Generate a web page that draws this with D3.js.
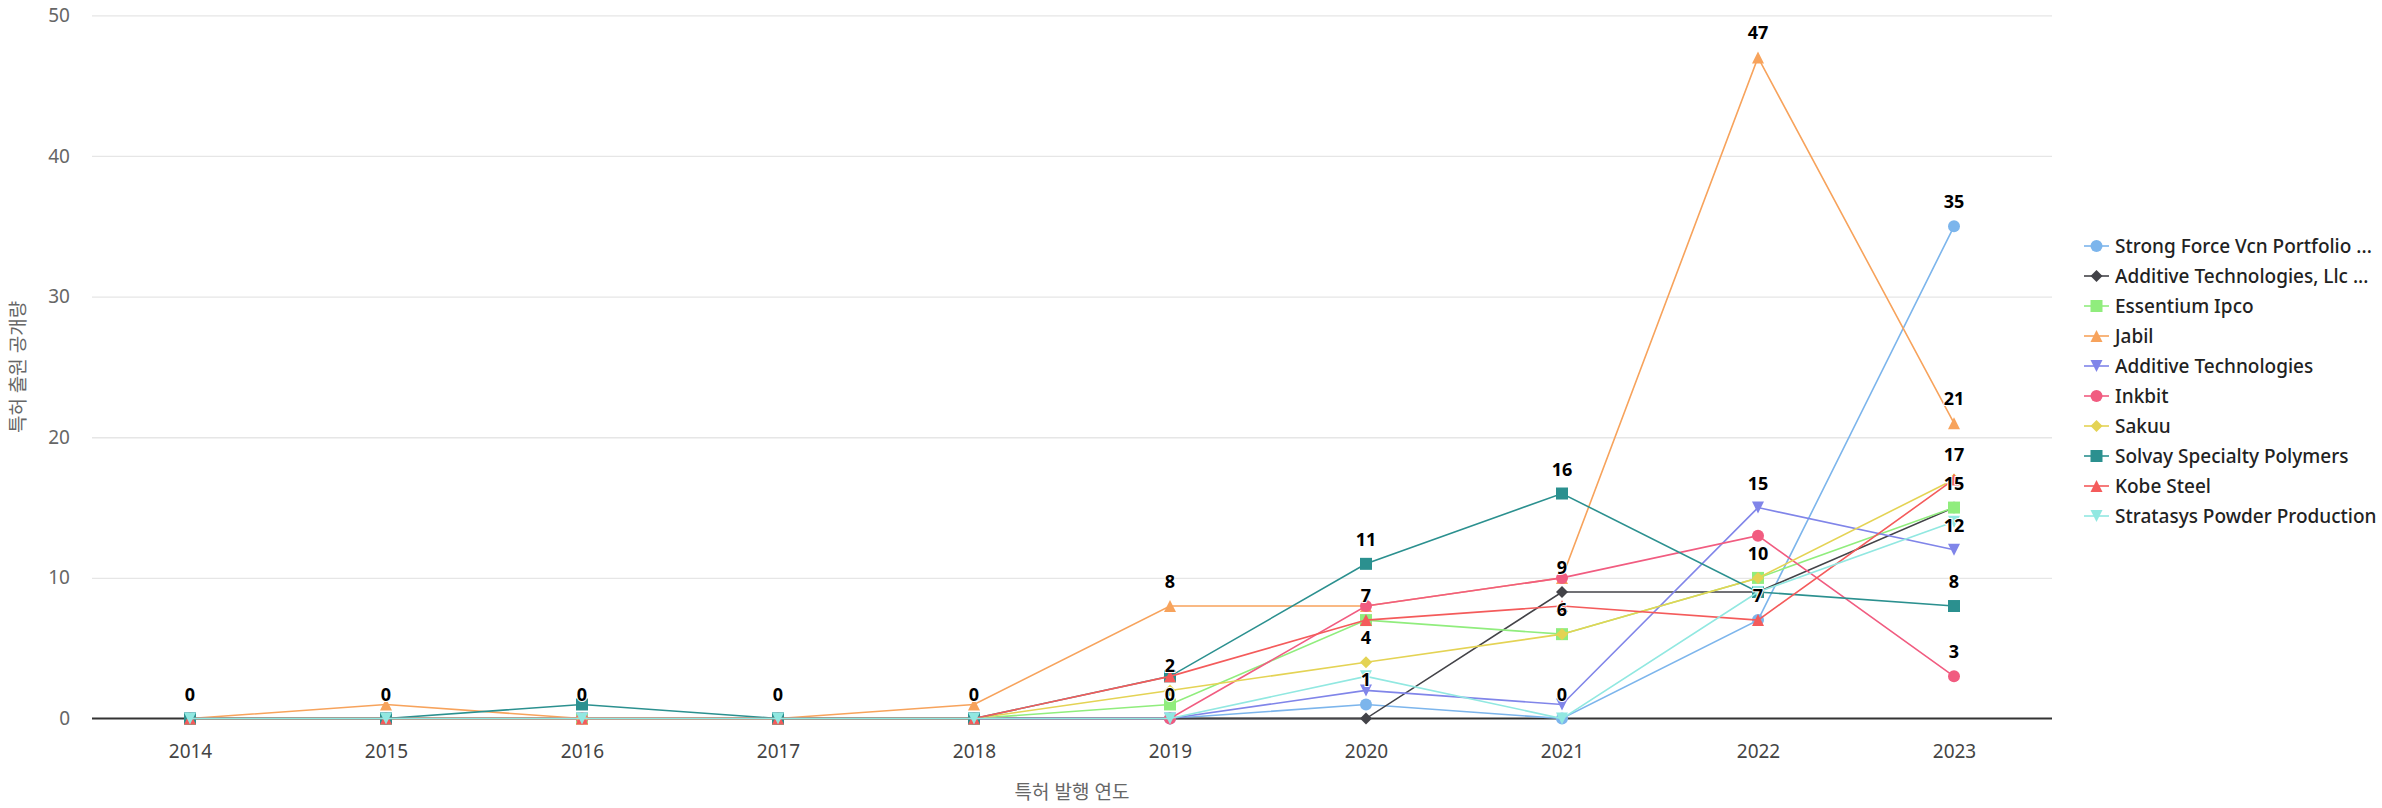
<!DOCTYPE html>
<html>
<head>
<meta charset="utf-8">
<script src="https://cdn.jsdelivr.net/npm/d3@7"></script>
<style>
  body { margin: 0; background: #fff; }
  text { font-family: "Noto Sans", "Noto Sans CJK KR", sans-serif; }
</style>
</head>
<body>
<script>
// years on the x axis
const years = [2014, 2015, 2016, 2017, 2018, 2019, 2020, 2021, 2022, 2023];

// one array per applicant (patent publications per year)
const strongForce   = [0, 0, 0, 0, 0, 0, 1, 0, 7, 35];
const additiveLlc   = [0, 0, 0, 0, 0, 0, 0, 9, 9, 15];
const essentium     = [0, 0, 0, 0, 0, 1, 7, 6, 10, 15];
const jabil         = [0, 1, 0, 0, 1, 8, 8, 10, 47, 21];
const additiveTech  = [0, 0, 0, 0, 0, 0, 2, 1, 15, 12];
const inkbit        = [0, 0, 0, 0, 0, 0, 8, 10, 13, 3];
const sakuu         = [0, 0, 0, 0, 0, 2, 4, 6, 10, 17];
const solvay        = [0, 0, 1, 0, 0, 3, 11, 16, 9, 8];
const kobeSteel     = [0, 0, 0, 0, 0, 3, 7, 8, 7, 17];
const stratasys     = [0, 0, 0, 0, 0, 0, 3, 0, 9, 14];

const seriesNames = ["Strong Force Vcn Portfolio ...", "Additive Technologies, Llc ...", "Essentium Ipco",
  "Jabil", "Additive Technologies", "Inkbit", "Sakuu", "Solvay Specialty Polymers", "Kobe Steel",
  "Stratasys Powder Production"];
const seriesValues = [strongForce, additiveLlc, essentium, jabil, additiveTech, inkbit, sakuu, solvay, kobeSteel, stratasys];

const yTicks = [0, 10, 20, 30, 40, 50];
const yTitle = "특허 출원 공개량";
const xTitle = "특허 발행 연도";

const colors = ["#7cb5ec", "#434348", "#90ed7d", "#f7a35c", "#8085e9",
                "#f15c80", "#e4d354", "#2b908f", "#f45b5b", "#91e8e1"];
const symbolNames = ["circle", "diamond", "square", "triangle", "triangle-down"];

const W = 2382, H = 808;
const plot = { left: 92, right: 2052, top: 15.3, bottom: 718.55 };

const svg = d3.select("body").append("svg")
    .attr("width", W)
    .attr("height", H);

const x = d3.scalePoint().domain(years).range([plot.left, plot.right]).padding(0.5);
const y = d3.scaleLinear().domain([0, 50]).range([plot.bottom, plot.top]);

// marker shapes, r = half size
function symbolPath(name, r) {
  if (name === "circle") return `M${-r},0A${r},${r} 0 1,0 ${r},0A${r},${r} 0 1,0 ${-r},0Z`;
  if (name === "square") return `M${-r},${-r}H${r}V${r}H${-r}Z`;
  if (name === "diamond") return `M0,${-r}L${r},0L0,${r}L${-r},0Z`;
  if (name === "triangle") return `M0,${-r}L${r},${r}L${-r},${r}Z`;
  return `M${-r},${-r}L${r},${-r}L0,${r}Z`;
}

// grid lines
svg.append("g")
  .attr("transform", `translate(${plot.left},0)`)
  .call(d3.axisLeft(y).tickValues(yTicks.slice(1)).tickSize(-(plot.right - plot.left)).tickFormat(""))
  .call(g => g.select(".domain").remove())
  .call(g => g.selectAll("line").attr("stroke", "#e6e6e6").attr("stroke-width", 1.3));

// y tick labels
svg.append("g")
  .attr("transform", `translate(${plot.left},0)`)
  .call(d3.axisLeft(y).tickValues(yTicks).tickSize(0).tickPadding(22))
  .call(g => g.select(".domain").remove())
  .call(g => g.selectAll("text")
      .attr("font-family", "'Noto Sans', sans-serif")
      .attr("font-size", 19).attr("fill", "#666"));

// x axis
svg.append("g")
  .attr("transform", `translate(0,${plot.bottom})`)
  .call(d3.axisBottom(x).tickSize(0).tickPadding(26))
  .call(g => g.select(".domain").attr("d", `M${plot.left},0H${plot.right}`)
      .attr("stroke", "#333").attr("stroke-width", 2))
  .call(g => g.selectAll("text")
      .attr("font-family", "'Noto Sans', sans-serif")
      .attr("font-size", 19).attr("fill", "#444"));

// axis titles
svg.append("text")
  .text(yTitle)
  .attr("transform", `translate(18,${(plot.top + plot.bottom) / 2}) rotate(-90)`)
  .attr("text-anchor", "middle")
  .attr("dy", "0.35em")
  .attr("font-size", 19)
  .attr("fill", "#666");

svg.append("text")
  .text(xTitle)
  .attr("x", (plot.left + plot.right) / 2)
  .attr("y", 792)
  .attr("text-anchor", "middle")
  .attr("dy", "0.35em")
  .attr("font-size", 19)
  .attr("fill", "#666");

// lines + markers
const line = d3.line().x((d, i) => x(years[i])).y(d => y(d));

const series = svg.selectAll(".series")
  .data(seriesValues)
  .enter()
  .append("g")
  .attr("class", "series");

series.append("path")
  .attr("fill", "none")
  .attr("stroke", (d, i) => colors[i])
  .attr("stroke-width", 1.6)
  .attr("d", d => line(d));

series.each(function (vals, si) {
  d3.select(this).selectAll("path.marker")
    .data(vals)
    .enter()
    .append("path")
    .attr("class", "marker")
    .attr("transform", (d, i) => `translate(${x(years[i])},${y(d)})`)
    .attr("d", symbolPath(symbolNames[si % 5], 6))
    .attr("fill", colors[si]);
});

// data labels: rounded to whole pixels, a label is dropped when it
// overlaps one placed before it (series order)
const labelGroup = svg.append("g");
const placed = [];
const boxH = 28.5;
seriesValues.forEach((vals, si) => {
  vals.forEach((v, i) => {
    const cx = x(years[i]);
    const cy = Math.round(y(v) - 24);
    const t = labelGroup.append("text")
      .text(v)
      .attr("x", cx)
      .attr("y", cy)
      .attr("dy", "0.35em")
      .attr("text-anchor", "middle")
      .attr("font-size", 18)
      .attr("font-weight", "bold")
      .attr("fill", "#000")
      .attr("stroke", "#fff")
      .attr("stroke-width", 2)
      .attr("paint-order", "stroke");
    const w = t.node().getComputedTextLength() + 4;
    const hit = placed.some(b => Math.abs(b.cx - cx) < (b.w + w) / 2 && Math.abs(b.cy - cy) < boxH);
    if (hit) t.remove();
    else placed.push({ cx, cy, w });
  });
});

// legend
const legend = svg.append("g").attr("transform", "translate(2084,246)");
const item = legend.selectAll("g")
  .data(seriesNames)
  .enter()
  .append("g")
  .attr("transform", (d, i) => `translate(0,${i * 30})`);

item.append("line")
  .attr("x1", 0).attr("x2", 25)
  .attr("stroke", (d, i) => colors[i])
  .attr("stroke-width", 1.6);

item.append("path")
  .attr("transform", "translate(12.5,0)")
  .attr("d", (d, i) => symbolPath(symbolNames[i % 5], 6))
  .attr("fill", (d, i) => colors[i]);

item.append("text")
  .text(d => d)
  .attr("x", 31)
  .attr("dy", "0.35em")
  .attr("font-size", 19)
  .attr("font-weight", 500)
  .attr("fill", "#222");
</script>
</body>
</html>
